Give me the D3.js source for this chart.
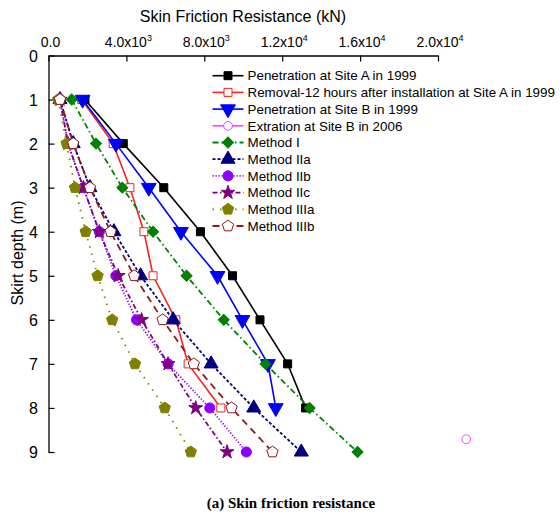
<!DOCTYPE html>
<html>
<head>
<meta charset="utf-8">
<script src="https://cdn.jsdelivr.net/npm/d3@7"></script>
<style>
  body { margin: 0; background: #fff; }
  svg { font-family: Arial, "Liberation Sans", sans-serif; }
</style>
</head>
<body>
<svg id="chart_svg" width="560" height="518"></svg>
<script>
// depth values (m)
const depths = [1, 2, 3, 4, 5, 6, 7, 8, 9];

// skin friction resistance (kN)
const siteA1999 = [1870, 3840, 5920, 7800, 9450, 10860, 12280, 13200];
const removalA1999 = [1700, 3320, 4180, 4900, 5370, 6540, 7170, 8850];
const siteB1999 = [1750, 3460, 5150, 6800, 8680, 9960, 11270, 11670];
const extractB2006 = [{ depth: 8.71, value: 21450 }];
const methodI = [1190, 2440, 3790, 5370, 7090, 9000, 11140, 13410, 15870];
const methodIIa = [590, 1270, 2130, 3360, 4730, 6400, 8350, 10540, 12980];
const methodIIb = [590, 1000, 1790, 2610, 3460, 4520, 6140, 8280, 10160];
const methodIIc = [590, 1000, 1790, 2610, 3580, 4780, 6140, 7560, 9170];
const methodIIIa = [500, 930, 1360, 1910, 2520, 3270, 4440, 5970, 7310];
const methodIIIb = [590, 1270, 2130, 3190, 4400, 5860, 7460, 9400, 11500];

const xTicks = [0, 4000, 8000, 12000, 16000, 20000];
const xTickLabels = [["0.0", ""], ["4.0x10", "3"], ["8.0x10", "3"], ["1.2x10", "4"], ["1.6x10", "4"], ["2.0x10", "4"]];
const yTicks = [0, 1, 2, 3, 4, 5, 6, 7, 8, 9];

const pentagon = {
  draw(context, size) {
    const r = Math.sqrt(size / 2.4);
    for (let i = 0; i < 5; i++) {
      const a = -Math.PI / 2 + i * 2 * Math.PI / 5;
      const px = r * Math.cos(a), py = r * Math.sin(a);
      if (i === 0) context.moveTo(px, py); else context.lineTo(px, py);
    }
    context.closePath();
  }
};

const toPts = arr => arr.map((v, i) => ({ depth: depths[i], value: v }));

const series = [
  { name: "Penetration at Site A in 1999", pts: toPts(siteA1999), color: "#000000", dash: null, sym: d3.symbolSquare, size: 64, fill: true, rot: 0 },
  { name: "Removal-12 hours after installation at Site A in 1999", pts: toPts(removalA1999), color: "#ff2020", dash: null, sym: d3.symbolSquare, size: 64, fill: false, rot: 0 },
  { name: "Penetration at Site B in 1999", pts: toPts(siteB1999), color: "#0000ff", dash: null, sym: d3.symbolTriangle, size: 95, fill: true, rot: 180 },
  { name: "Extration at Site B in 2006", pts: extractB2006, color: "#ff40ff", dash: null, sym: d3.symbolCircle, size: 60, fill: false, rot: 0 },
  { name: "Method I", pts: toPts(methodI), color: "#008000", dash: "6,3,1.5,3", sym: d3.symbolSquare, size: 60, fill: true, rot: 45 },
  { name: "Method IIa", pts: toPts(methodIIa), color: "#000080", dash: "3,2", sym: d3.symbolTriangle, size: 85, fill: true, rot: 0 },
  { name: "Method IIb", pts: toPts(methodIIb), color: "#8b00ff", dash: "1.2,1.8", sym: d3.symbolCircle, size: 80, fill: true, rot: 0 },
  { name: "Method IIc", pts: toPts(methodIIc), color: "#800080", dash: "5,2.5,1.5,2.5", sym: d3.symbolStar, size: 60, fill: true, rot: 0 },
  { name: "Method IIIa", pts: toPts(methodIIIa), color: "#808000", dash: "1.5,6", sym: pentagon, size: 85, fill: true, rot: 0 },
  { name: "Method IIIb", pts: toPts(methodIIIb), color: "#8b1a1a", dash: "7,5", sym: pentagon, size: 85, fill: false, rot: 0 }
];

const svg = d3.select("#chart_svg");

const x = d3.scaleLinear().domain([0, 20000]).range([48.5, 438]);
const y = d3.scaleLinear().domain([0, 9]).range([55.5, 452]);

// top x axis
const gx = svg.append("g").attr("transform", "translate(0," + y(0) + ")");
gx.call(d3.axisBottom(x).tickValues(xTicks).tickSize(6).tickSizeOuter(0).tickFormat(() => ""));
gx.select(".domain").attr("stroke-width", 1.3);
gx.selectAll(".tick line").attr("stroke-width", 1.2);

const xl = svg.append("g").selectAll("text").data(xTicks).enter().append("text")
  .attr("x", d => x(d) + 2)
  .attr("y", 47)
  .attr("text-anchor", "middle")
  .attr("font-size", 14)
  .attr("fill", "#000");
xl.append("tspan").text((d, i) => xTickLabels[i][0]);
xl.append("tspan").attr("dy", -6).attr("font-size", 9).text((d, i) => xTickLabels[i][1]);

svg.append("text").attr("x", 243).attr("y", 22).attr("text-anchor", "middle")
  .attr("font-size", 16).text("Skin Friction Resistance (kN)");

// left y axis
const gy = svg.append("g").attr("transform", "translate(" + x(0) + ",0)");
gy.call(d3.axisRight(y).tickValues(yTicks).tickSize(6).tickSizeOuter(0).tickFormat(() => ""));
gy.select(".domain").attr("stroke-width", 1.3);
gy.selectAll(".tick line").attr("stroke-width", 1.2);

svg.append("g").selectAll("text").data(yTicks).enter().append("text")
  .attr("x", 38).attr("y", d => y(d) + 6)
  .attr("text-anchor", "end").attr("font-size", 16).text(d => d);

svg.append("text").attr("transform", "translate(23,253) rotate(-90)")
  .attr("text-anchor", "middle").attr("font-size", 16).text("Skirt depth (m)");

// lines and markers
const line = d3.line().x(d => x(d.value)).y(d => y(d.depth));
const gPlot = svg.append("g");

series.forEach(s => {
  if (s.pts.length > 1) {
    gPlot.append("path").datum(s.pts)
      .attr("d", line)
      .attr("fill", "none")
      .attr("stroke", s.color)
      .attr("stroke-width", s.dash ? 1.8 : 1.6)
      .attr("stroke-dasharray", s.dash);
  }
});

series.forEach(s => {
  gPlot.selectAll(null).data(s.pts).enter().append("path")
    .attr("d", d3.symbol().type(s.sym).size(s.size))
    .attr("transform", d => "translate(" + x(d.value) + "," + y(d.depth) + ") rotate(" + s.rot + ")")
    .attr("fill", s.fill ? s.color : "#fff")
    .attr("stroke", s.color)
    .attr("stroke-width", 1);
});

// legend
const legend = svg.append("g");
const legY0 = 75.7, legStep = 16.7;
series.forEach((s, i) => {
  const ly = legY0 + i * legStep;
  legend.append("line")
    .attr("x1", 212.5).attr("x2", 243.5).attr("y1", ly).attr("y2", ly)
    .attr("stroke", s.color).attr("stroke-width", s.dash ? 1.8 : 1.6)
    .attr("stroke-dasharray", s.dash);
  legend.append("path")
    .attr("d", d3.symbol().type(s.sym).size(s.size))
    .attr("transform", "translate(228," + ly + ") rotate(" + s.rot + ")")
    .attr("fill", s.fill ? s.color : "#fff")
    .attr("stroke", s.color).attr("stroke-width", 1);
  legend.append("text")
    .attr("x", 247.5).attr("y", ly + 4.7)
    .attr("font-size", 13.4).text(s.name);
});

// caption
svg.append("text").attr("x", 291).attr("y", 508).attr("text-anchor", "middle")
  .attr("font-family", "'Liberation Serif', 'Times New Roman', serif")
  .attr("font-weight", "bold").attr("font-size", 15)
  .text("(a) Skin friction resistance");
</script>
</body>
</html>
